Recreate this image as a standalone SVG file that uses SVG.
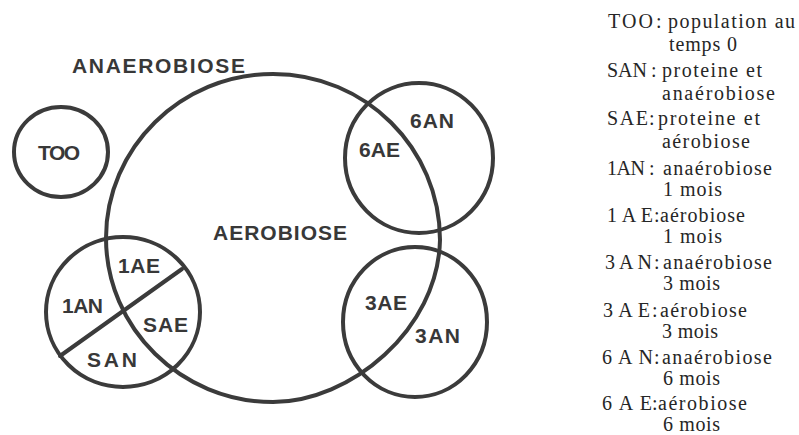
<svg xmlns="http://www.w3.org/2000/svg" width="799" height="435" viewBox="0 0 799 435">
  <style>
    .ring { fill: none; stroke: #3b3b3b; stroke-width: 4; stroke-linejoin: round; stroke-linecap: round; }
    .lbl { font-family: "Liberation Sans", Arial, sans-serif; font-weight: bold; font-size: 21px; fill: #383838; }
    .key { font-family: "Liberation Serif", "Times New Roman", serif; font-size: 20px; fill: #262626; }
  </style>
  <rect width="799" height="435" fill="#ffffff"/>

  <!-- population at time 0 -->
  <g id="too">
    <ellipse class="ring" cx="61" cy="152" rx="47" ry="45"/>
    <text class="lbl" x="38" y="160" textLength="42">TOO</text>
  </g>

  <!-- large aerobic field, label for the anaerobic outside -->
  <g id="aerobiose">
    <path class="ring" d="M 273 74 C 365 74, 440 148, 440 240 C 438 330, 350 402, 273 402 C 181 402, 106 328, 106 238 C 106 148, 181 74, 273 74 Z"/>
    <text class="lbl" x="213" y="240" textLength="134">AEROBIOSE</text>
  </g>
  <g id="anaerobiose">
    <text class="lbl" x="72" y="73" font-size="20" textLength="173">ANAEROBIOSE</text>
  </g>

  <!-- 1 month + protein samples -->
  <g id="groupe-1">
    <ellipse class="ring" cx="123" cy="312" rx="77" ry="75"/>
    <line class="ring" x1="60" y1="356" x2="182" y2="269"/>
    <text class="lbl" x="118" y="273" textLength="42">1AE</text>
    <text class="lbl" x="62" y="313" textLength="41">1AN</text>
    <text class="lbl" x="143" y="332" textLength="45">SAE</text>
    <text class="lbl" x="87" y="367" textLength="50">SAN</text>
  </g>

  <!-- 6 months -->
  <g id="groupe-6">
    <ellipse class="ring" cx="419" cy="158" rx="74" ry="75"/>
    <text class="lbl" x="410" y="128" textLength="44">6AN</text>
    <text class="lbl" x="359" y="157" textLength="41">6AE</text>
  </g>

  <!-- 3 months -->
  <g id="groupe-3">
    <ellipse class="ring" cx="415" cy="322" rx="72" ry="75"/>
    <text class="lbl" x="365" y="310" textLength="42">3AE</text>
    <text class="lbl" x="415" y="343" textLength="45">3AN</text>
  </g>

  <!-- legend -->
  <g id="legende" class="key">
    <text x="608" y="28" textLength="45">TOO</text><text x="656" y="28">:</text>
    <text x="668" y="28" textLength="127">population au</text>
    <text x="669" y="51" textLength="68">temps 0</text>

    <text x="607" y="77" textLength="40">SAN</text><text x="651" y="77">:</text>
    <text x="662" y="77" textLength="100">proteine et</text>
    <text x="662" y="100" textLength="113">anaérobiose</text>

    <text x="607" y="125" textLength="41">SAE</text><text x="649" y="125">:</text>
    <text x="658" y="125" textLength="102">proteine et</text>
    <text x="662" y="148" textLength="88">aérobiose</text>

    <text x="607" y="175" textLength="38">1AN</text><text x="649" y="175">:</text>
    <text x="663" y="175" textLength="109">anaérobiose</text>
    <text x="663" y="196" textLength="59">1 mois</text>

    <text x="607" y="222" textLength="46">1AE</text><text x="654" y="222">:</text>
    <text x="660" y="222" textLength="85">aérobiose</text>
    <text x="663" y="243" textLength="59">1 mois</text>

    <text x="605" y="269" textLength="47">3AN</text><text x="654" y="269">:</text>
    <text x="663" y="269" textLength="109">anaérobiose</text>
    <text x="663" y="290" textLength="57">3 mois</text>

    <text x="603" y="317" textLength="47">3AE</text><text x="652" y="317">:</text>
    <text x="660" y="317" textLength="87">aérobiose</text>
    <text x="662" y="338" textLength="56">3 mois</text>

    <text x="602" y="364" textLength="51">6AN</text><text x="654" y="364">:</text>
    <text x="662" y="364" textLength="110">anaérobiose</text>
    <text x="663" y="385" textLength="57">6 mois</text>

    <text x="602" y="410" textLength="50">6AE</text><text x="652" y="410">:</text>
    <text x="658" y="410" textLength="89">aérobiose</text>
    <text x="663" y="431" textLength="57">6 mois</text>
  </g>
</svg>
